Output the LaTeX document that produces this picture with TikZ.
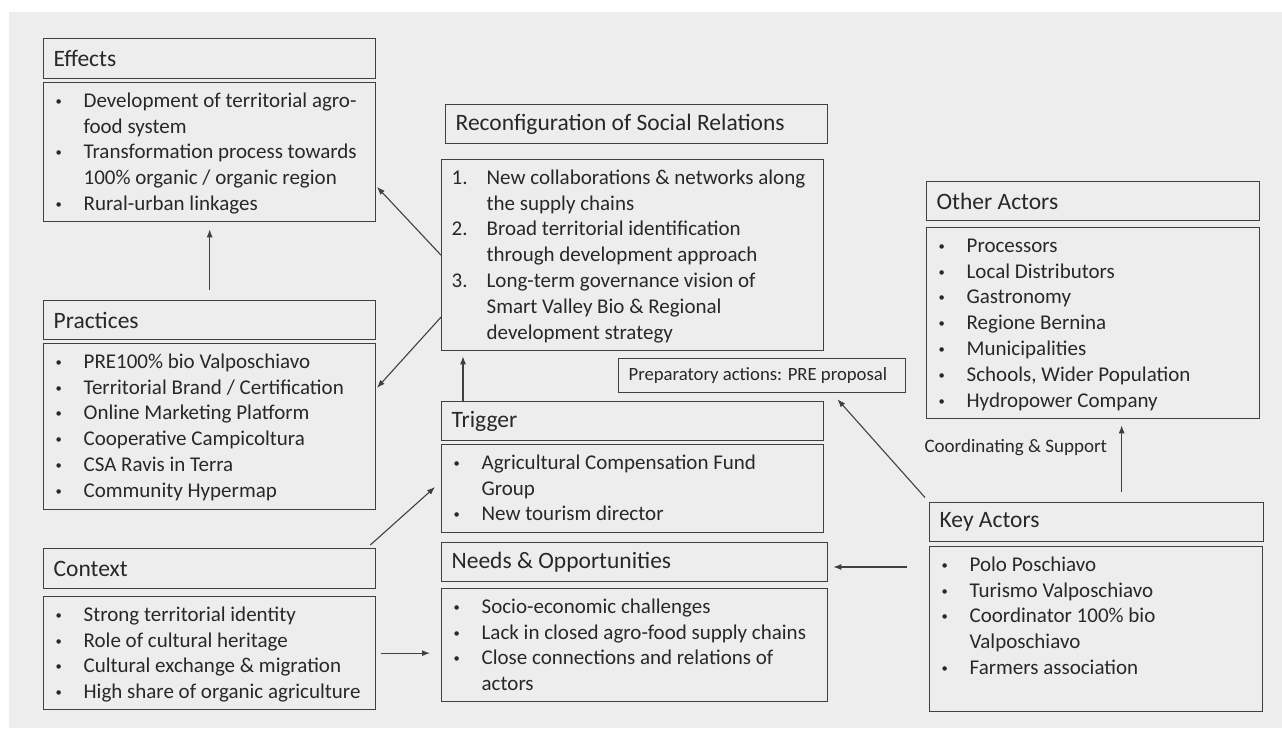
\documentclass[tikz,border=0pt]{standalone}
\usepackage{fontspec}
\usepackage{graphicx}
\setmainfont{Carlito}
\usetikzlibrary{arrows.meta, positioning}
\definecolor{bggray}{RGB}{237,237,237}
\definecolor{linegray}{RGB}{64,64,64}
\definecolor{txtgray}{RGB}{40,40,40}
\newlength{\itmind}
\setlength{\itmind}{30pt}
\newcommand{\dotbl}{\hspace*{2pt}\raisebox{2pt}{\scalebox{0.6}{\textbullet}}}
\newcommand{\itm}[2][\dotbl]{\par\hangindent=\itmind\hangafter=1\noindent\strut\makebox[\itmind][l]{#1}#2}
\newcommand{\hdbox}[3]{\parbox[c][#2pt][c]{\dimexpr#1pt-20pt\relax}{#3}}
\newcommand{\bdbox}[3]{\parbox[c][#2pt][t]{\dimexpr#1pt-20pt\relax}{\vspace*{6.5pt}#3}}
\tikzset{
  hd/.style={draw=linegray, line width=1.3pt, anchor=north west, inner xsep=10pt, inner ysep=0pt, text=txtgray, font=\fontsize{23.5}{28}\selectfont},
  bd/.style={hd, font=\fontsize{21}{25.8}\selectfont},
  arr/.style={draw=linegray, line width=1.1pt, -{Latex[length=8pt,width=6pt]}}
}
\begin{document}
\begin{tikzpicture}[x=1pt, y=-1pt]
\useasboundingbox (0,0) rectangle (1282,728);
\fill[white] (0,0) rectangle (1282,728);
\fill[bggray] (9,12) rectangle (1282,728);

\node[hd] (effhd) at (43,38) {\hdbox{332}{40}{Effects}};
\node[bd] (effbd) at (43,82) {\bdbox{332}{139}{%
\itm{Development of territorial agro-\\food system}
\itm{Transformation process towards\\100\% organic / organic region}
\itm{Rural-urban linkages}}};

\node[hd] (prachd) at (43,300) {\hdbox{332}{39}{Practices}};
\node[bd] (pracbd) at (43,343) {\bdbox{332}{166}{%
\itm{PRE100\% bio Valposchiavo}
\itm{Territorial Brand / Certification}
\itm{Online Marketing Platform}
\itm{Cooperative Campicoltura}
\itm{CSA Ravis in Terra}
\itm{Community Hypermap}}};

\node[hd] (conthd) at (43,548) {\hdbox{332}{40}{Context}};
\node[bd] (contbd) at (43,596) {\bdbox{332}{113}{%
\itm{Strong territorial identity}
\itm{Role of cultural heritage}
\itm{Cultural exchange \& migration}
\itm{High share of organic agriculture}}};

\node[hd] (reconhd) at (445,104) {\hdbox{382}{39}{Reconfiguration of Social Relations}};
\node[bd] (reconbd) at (441,159) {\bdbox{382}{191}{\setlength{\itmind}{35pt}%
\itm[1.]{New collaborations \& networks along\\the supply chains}
\itm[2.]{Broad territorial identification\\through development approach}
\itm[3.]{Long-term governance vision of\\Smart Valley Bio \& Regional\\development strategy}}};

\node[hd, font=\fontsize{18.7}{22}\selectfont] (prep) at (618,358) {\hdbox{287}{34}{Preparatory actions: PRE proposal}};

\node[hd] (trighd) at (441,401) {\hdbox{382}{39}{Trigger}};
\node[bd] (trigbd) at (441,444) {\bdbox{382}{88}{%
\itm{Agricultural Compensation Fund\\Group}
\itm{New tourism director}}};

\node[hd] (needhd) at (441,542) {\hdbox{386}{39}{Needs \& Opportunities}};
\node[bd] (needbd) at (441,588) {\bdbox{386}{113}{%
\itm{Socio-economic challenges}
\itm{Lack in closed agro-food supply chains}
\itm{Close connections and relations of\\actors}}};

\node[hd] (othhd) at (926,181) {\hdbox{333}{39}{Other Actors}};
\node[bd] (othbd) at (926,227) {\bdbox{333}{191}{%
\itm{Processors}
\itm{Local Distributors}
\itm{Gastronomy}
\itm{Regione Bernina}
\itm{Municipalities}
\itm{Schools, Wider Population}
\itm{Hydropower Company}}};

\node[hd] (keyhd) at (929,502) {\hdbox{334}{39}{Key Actors}};
\node[bd] (keybd) at (929,546) {\bdbox{333}{165}{%
\itm{Polo Poschiavo}
\itm{Turismo Valposchiavo}
\itm{Coordinator 100\% bio\\Valposchiavo}
\itm{Farmers association}}};

\draw[arr, shorten <=10pt, shorten >=7pt] (prachd.north) -- (effbd.south);
\draw[arr, shorten >=1pt] (reconbd.west) -- ([yshift=-34pt]effbd.east);
\draw[arr, shorten >=1pt] ([yshift=-62pt]reconbd.west) -- ([yshift=38pt]pracbd.east);
\draw[arr, shorten >=8pt] ([xshift=-6pt,yshift=3pt]conthd.north east) -- ([yshift=7pt]trigbd.west);
\draw[arr, shorten <=5pt, shorten >=11pt] (contbd.east) -- (contbd.east -| needbd.west);
\draw[arr, shorten >=5pt] ([xshift=22pt]trighd.north west) -- ([xshift=22pt]reconbd.south west);
\draw[arr, shorten <=6pt, shorten >=8pt] (keyhd.north west) -- ([xshift=70pt]prep.south);
\draw[arr, shorten <=22pt, shorten >=5pt] ([yshift=-21pt]keybd.north west) -- ([yshift=-21pt]keybd.north west -| needhd.east);
\draw[arr, shorten <=10pt, shorten >=6pt] ([xshift=25pt]keyhd.north) -- ([xshift=25pt]keyhd.north |- othbd.south) node[pos=0.655, left=14pt, inner sep=0pt, text=txtgray, font=\fontsize{19}{23}\selectfont] (coord) {Coordinating \& Support};
\end{tikzpicture}
\end{document}
